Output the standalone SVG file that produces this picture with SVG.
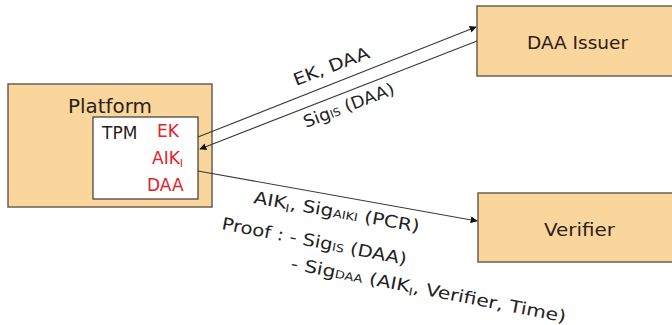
<svg xmlns="http://www.w3.org/2000/svg" width="672" height="325" viewBox="0 0 672 325">
<style>
.box{fill:#FAD59C;stroke:#6b6050;stroke-width:1.5}
.tpm{fill:#ffffff;stroke:#3a3a3a;stroke-width:1.2}
.lbl{font-family:"DejaVu Sans","Liberation Sans",sans-serif;fill:#2a2218}
.red{font-family:"DejaVu Sans","Liberation Sans",sans-serif;fill:#E3222B;font-size:17px}
.edge{font-family:"DejaVu Sans","Liberation Sans",sans-serif;fill:#222;font-size:17px}
.conn{stroke:#3a3a3a;stroke-width:1.1;fill:none}
.sub{font-size:11px}
</style>
<defs>
<marker id="ah" viewBox="0 0 10 10" refX="9" refY="5" markerWidth="7" markerHeight="7" markerUnits="userSpaceOnUse" orient="auto">
<path d="M0,0 L10,5 L0,10 Z" fill="#111"/>
</marker>
</defs>
<rect width="672" height="325" fill="#ffffff"/>
<g id="platform">
<rect class="box" x="8" y="84" width="204" height="123"/>
<text class="lbl" x="68" y="113" font-size="19" textLength="84" lengthAdjust="spacingAndGlyphs">Platform</text>
</g>
<g id="tpm">
<rect class="tpm" x="93" y="117" width="105" height="82"/>
<text class="lbl" x="102" y="139" font-size="17">TPM</text>
<text class="red" x="157" y="137">EK</text>
<text class="red" x="152" y="164">AIK<tspan class="sub" dy="3">I</tspan></text>
<text class="red" x="147" y="191">DAA</text>
</g>
<g id="daa-issuer">
<rect class="box" x="477" y="6" width="200" height="70"/>
<text class="lbl" x="527" y="49" font-size="18" textLength="101" lengthAdjust="spacingAndGlyphs">DAA Issuer</text>
</g>
<g id="verifier">
<rect class="box" x="478" y="193" width="200" height="69"/>
<text class="lbl" x="544" y="236" font-size="17" textLength="71" lengthAdjust="spacingAndGlyphs">Verifier</text>
</g>
<g id="connectors">
<line class="conn" x1="198" y1="137" x2="476" y2="27" marker-end="url(#ah)"/>
<line class="conn" x1="477" y1="41" x2="200" y2="149" marker-end="url(#ah)"/>
<line class="conn" x1="198" y1="171" x2="477" y2="221" marker-end="url(#ah)"/>
<text class="edge" x="296" y="86" transform="rotate(-21 296 86)" textLength="80" lengthAdjust="spacingAndGlyphs">EK, DAA</text>
<text class="edge" x="306" y="128" transform="rotate(-21 306 128)" textLength="96" lengthAdjust="spacingAndGlyphs">Sig<tspan class="sub">IS</tspan> (DAA)</text>
<text class="edge" x="253" y="203" transform="rotate(10 253 203)" textLength="168" lengthAdjust="spacingAndGlyphs">AIK<tspan class="sub" dy="3">I</tspan><tspan dy="-3">, Sig</tspan><tspan class="sub">AIKI</tspan> (PCR)</text>
<text class="edge" x="221" y="229" transform="rotate(11 221 229)" textLength="188" lengthAdjust="spacingAndGlyphs">Proof : - Sig<tspan class="sub">IS</tspan> (DAA)</text>
<text class="edge" x="290" y="269" transform="rotate(11 290 269)" textLength="280" lengthAdjust="spacingAndGlyphs">- Sig<tspan class="sub">DAA</tspan> (AIK<tspan class="sub" dy="3">I</tspan><tspan dy="-3">, Verifier, Time)</tspan></text>
</g>
</svg>
